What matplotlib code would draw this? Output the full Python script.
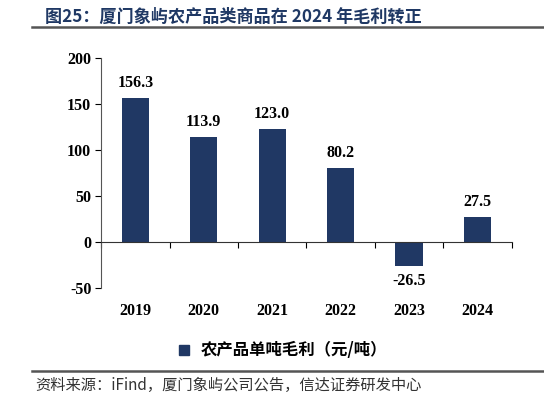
import numpy as np
import matplotlib.pyplot as plt
from matplotlib.lines import Line2D

years = ["2019", "2020", "2021", "2022", "2023", "2024"]
margin = [156.3, 113.9, 123.0, 80.2, -26.5, 27.5]
yticks = [-50, 0, 50, 100, 150, 200]

title = "图25：厦门象屿农产品类商品在 2024 年毛利转正"
series_name = "农产品单吨毛利（元/吨）"
source = "资料来源：iFind，厦门象屿公司公告，信达证券研发中心"

bar_color = "#203864"
serif = "Liberation Serif"
cjk = ["Noto Sans CJK SC", "DejaVu Sans"]

fig = plt.figure(figsize=(5.44, 3.99), dpi=100)
ax = fig.add_axes([0.1857, 0.278, 0.7553, 0.5766])

x = np.arange(len(years))
bars = ax.bar(x, margin, width=0.4, color=bar_color, zorder=2)

# value labels
for xi, v in zip(x, margin):
    off = 5 if v >= 0 else -5
    ax.annotate(f"{v:.1f}", (xi, v), xytext=(0, off), textcoords="offset points",
                ha="center", va="bottom" if v >= 0 else "top",
                fontsize=11.5, fontweight="bold", family=serif)

ax.set_xlim(-0.5, len(years) - 0.5)
ax.set_ylim(-50, 200)
ax.set_yticks(yticks)
ax.set_yticklabels([str(t) for t in yticks], fontsize=11.5, fontweight="bold", family=serif)
ax.tick_params(axis="y", direction="out", length=4, width=0.8, pad=3)

# x axis sits at zero, year labels pushed down under the plot
ax.spines["bottom"].set_position(("data", 0))
ax.spines["top"].set_visible(False)
ax.spines["right"].set_visible(False)
ax.spines["left"].set_color("#555555")
ax.spines["bottom"].set_color("#333333")
ax.spines["left"].set_linewidth(0.8)
ax.spines["bottom"].set_linewidth(0.8)
ax.set_xticks(x)
ax.set_xticklabels(years, fontsize=11.5, fontweight="bold", family=serif)
ax.set_xticks(np.arange(len(years) + 1) - 0.5, minor=True)
ax.tick_params(axis="x", which="major", length=0, pad=44)
ax.tick_params(axis="x", which="minor", direction="out", length=4, width=0.8)

# legend
handle = Line2D([], [], marker="s", color=bar_color, linestyle="none", markersize=7)
fig.legend([handle], [series_name], loc="center", bbox_to_anchor=(0.51, 0.122),
           frameon=False, handletextpad=0.05, borderaxespad=0,
           prop={"family": cjk, "weight": "bold", "size": 11.8})

# title and source with rules
fig.text(0.083, 0.957, title, fontsize=12.3, fontweight="bold", color="#1F3864",
         family=cjk, va="center")
fig.add_artist(Line2D([0.059, 1.0], [0.932, 0.932], color="#555555", lw=1.8))
fig.add_artist(Line2D([0.059, 1.0], [0.070, 0.070], color="#555555", lw=1.8))
fig.text(0.064, 0.034, source, fontsize=11, style="italic", color="#333333",
         family=cjk, va="center")

fig.savefig("out.png", dpi=100)
